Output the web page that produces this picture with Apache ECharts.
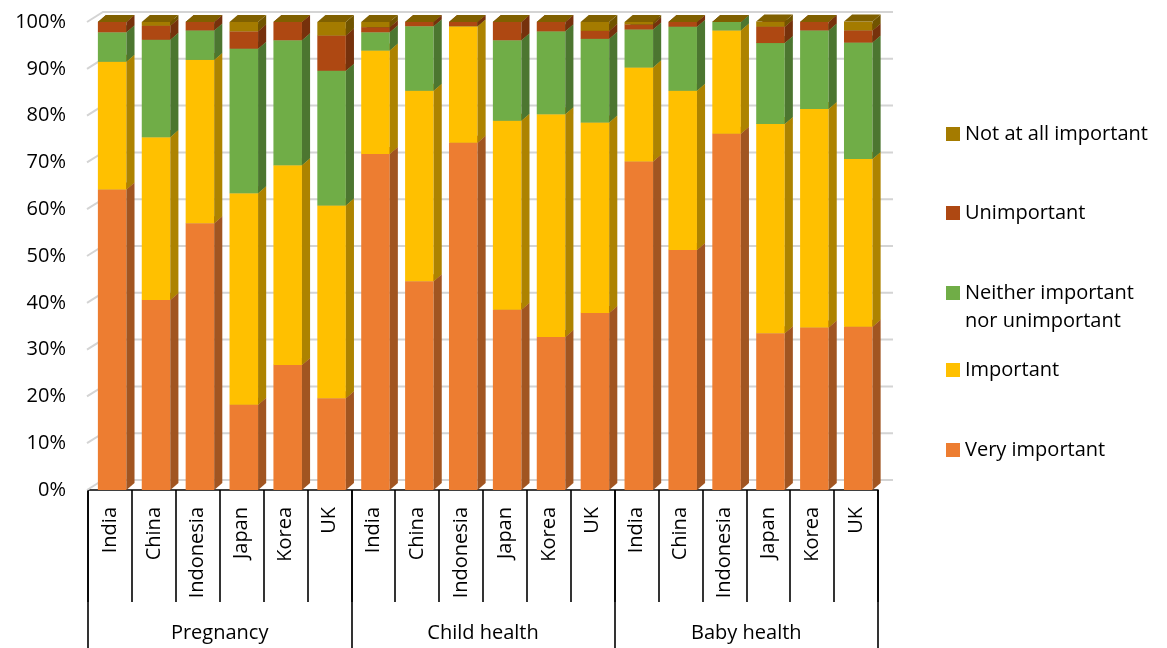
<!DOCTYPE html>
<html>
<head>
<meta charset="utf-8">
<script src="https://cdn.jsdelivr.net/npm/echarts@6/dist/echarts.min.js"></script>
<style>
  html, body { margin: 0; padding: 0; background: #ffffff; }
  #chart { width: 1167px; height: 648px; }
</style>
</head>
<body>
<div id="chart"></div>
<script>
// Countries (one bar each) inside each topic group
const CATEGORIES = [
  'India', 'China', 'Indonesia', 'Japan', 'Korea', 'UK',
  'India', 'China', 'Indonesia', 'Japan', 'Korea', 'UK',
  'India', 'China', 'Indonesia', 'Japan', 'Korea', 'UK'
];
const GROUPS = ['Pregnancy', 'Child health', 'Baby health'];
const Y_TICKS = [0, 10, 20, 30, 40, 50, 60, 70, 80, 90, 100];

// Share of answers (%) per bar, bottom segment first
const VERY_IMPORTANT = [
  64.2, 40.6, 57.0, 18.2, 26.7, 19.6,
  71.8, 44.6, 74.2, 38.5, 32.7, 37.8,
  70.2, 51.3, 76.1, 33.5, 34.7, 34.9
];
const IMPORTANT = [
  27.3, 34.8, 34.9, 45.2, 42.7, 41.2,
  22.1, 40.7, 24.9, 40.4, 47.6, 40.7,
  20.1, 34.0, 22.1, 44.7, 46.7, 35.8
];
const NEITHER = [
  6.3, 20.8, 6.3, 30.9, 26.7, 28.8,
  3.9, 13.8, 0.0, 17.2, 17.7, 17.9,
  8.1, 13.7, 1.8, 17.3, 16.8, 24.9
];
const UNIMPORTANT = [
  2.2, 3.0, 1.8, 3.7, 3.9, 7.5,
  1.1, 0.9, 0.9, 3.9, 2.0, 1.7,
  1.1, 1.0, 0.0, 3.5, 1.8, 2.6
];
const NOT_AT_ALL = [
  0.0, 0.8, 0.0, 2.0, 0.0, 2.9,
  1.1, 0.0, 0.0, 0.0, 0.0, 1.9,
  0.5, 0.0, 0.0, 1.1, 0.0, 1.9
];

const SERIES_NAMES = [
  'Very important', 'Important', 'Neither important nor unimportant',
  'Unimportant', 'Not at all important'
];
const SERIES_VALUES = [VERY_IMPORTANT, IMPORTANT, NEITHER, UNIMPORTANT, NOT_AT_ALL];
const SERIES_COLORS = ['#ED7D31', '#FFC000', '#70AD47', '#AE4812', '#A47B00'];

const FONT = '"Open Sans"';
const TEXT_SIZE = 20;

function shade(hex, k) {
  const n = parseInt(hex.slice(1), 16);
  const r = Math.round(((n >> 16) & 255) * k);
  const g = Math.round(((n >> 8) & 255) * k);
  const b = Math.round((n & 255) * k);
  return 'rgb(' + r + ',' + g + ',' + b + ')';
}

// Box-shaped bar segment: front face, right side face and top face
function makeBarRenderer(color) {
  const sideColor = shade(color, 0.68);
  const topColor = shade(color, 0.78);
  return function (params, api) {
    const idx = api.value(0);
    const lo = api.value(1);
    const hi = api.value(2);
    const band = api.size([1, 0])[0];
    const w = band * 0.65;
    const off = band * 0.05;
    const dx = band * 0.185;
    const dy = -band * 0.16;
    const pBottom = api.coord([idx, lo]);
    const pTop = api.coord([idx, hi]);
    const x0 = pBottom[0] - w / 2 + off;
    const x1 = x0 + w;
    const yb = pBottom[1];
    const yt = pTop[1];
    return {
      type: 'group',
      children: [
        { type: 'polygon', shape: { points: [[x0, yb], [x1, yb], [x1, yt], [x0, yt]] },
          style: { fill: color } },
        { type: 'polygon', shape: { points: [[x1, yb], [x1 + dx, yb + dy], [x1 + dx, yt + dy], [x1, yt]] },
          style: { fill: sideColor } },
        { type: 'polygon', shape: { points: [[x0, yt], [x1, yt], [x1 + dx, yt + dy], [x0 + dx, yt + dy]] },
          style: { fill: topColor } }
      ]
    };
  };
}

// Back wall gridlines with the short receding stroke on the left wall
function renderWall(params, api) {
  const v = api.value(1);
  const y = api.coord([0, v])[1];
  const cs = params.coordSys;
  const dx = 15, dy = -10;
  return {
    type: 'polyline',
    shape: { points: [[cs.x - 1, y], [cs.x + dx, y + dy], [cs.x + cs.width + dx, y + dy]] },
    style: { stroke: '#d4d4d4', lineWidth: 2, fill: null }
  };
}

// Stack the segments of every bar
const baseline = CATEGORIES.map(() => 0);
const barSeries = SERIES_NAMES.map((name, s) => {
  const data = SERIES_VALUES[s].map((v, i) => {
    const lo = baseline[i];
    const hi = lo + v;
    baseline[i] = hi;
    return [i, lo, hi];
  });
  return {
    type: 'custom',
    name: name,
    silent: true,
    z: 3,
    itemStyle: { color: SERIES_COLORS[s] },
    encode: { x: 0, y: [1, 2] },
    renderItem: makeBarRenderer(SERIES_COLORS[s]),
    data: data
  };
});

const wallSeries = {
  type: 'custom',
  silent: true,
  z: 1,
  encode: { x: 0, y: 1 },
  renderItem: renderWall,
  data: Y_TICKS.map(v => [0, v])
};

// Legend entries, top to bottom, with their vertical centres
const LEGEND_ROWS = [
  { name: 'Not at all important', center: 134 },
  { name: 'Unimportant', center: 213 },
  { name: 'Neither important nor unimportant', center: 293, text: ' \nNeither important\nnor unimportant' },
  { name: 'Important', center: 370 },
  { name: 'Very important', center: 450 }
];
const LINE_H = 28;
const legends = LEGEND_ROWS.map(row => {
  const lines = row.text ? row.text.split('\n').length : 1;
  return {
    data: [row.name],
    orient: 'vertical',
    left: 946,
    top: row.center - (lines * LINE_H) / 2,
    padding: 0,
    icon: 'rect',
    itemWidth: 14,
    itemHeight: 14,
    selectedMode: false,
    formatter: row.text ? () => row.text : undefined,
    textStyle: { fontFamily: FONT, fontSize: TEXT_SIZE, color: '#000', lineHeight: LINE_H }
  };
});

const chart = echarts.init(document.getElementById('chart'), null, { renderer: 'canvas' });
chart.setOption({
  animation: false,
  backgroundColor: '#ffffff',
  legend: legends,
  grid: { left: 88, right: 289, top: 22, bottom: 158, containLabel: false },
  xAxis: [
    {
      type: 'category',
      data: CATEGORIES,
      position: 'bottom',
      boundaryGap: true,
      axisLine: { show: true, lineStyle: { color: '#000', width: 1.6 } },
      axisTick: { show: true, interval: 0, length: 112, lineStyle: { color: '#000', width: 1.6 } },
      axisLabel: { interval: 0, rotate: 90, margin: 17, fontFamily: FONT, fontSize: TEXT_SIZE, color: '#000' },
      splitLine: { show: false }
    },
    {
      type: 'category',
      data: GROUPS,
      position: 'bottom',
      boundaryGap: true,
      axisLine: { show: false },
      axisTick: { show: true, interval: 0, length: 158, lineStyle: { color: '#000', width: 1.6 } },
      axisLabel: { interval: 0, margin: 133, fontFamily: FONT, fontSize: TEXT_SIZE, color: '#000' },
      splitLine: { show: false }
    }
  ],
  yAxis: {
    type: 'value',
    min: 0,
    max: 100,
    interval: 10,
    axisLine: { show: false },
    axisTick: { show: false },
    splitLine: { show: false },
    axisLabel: { formatter: '{value}%', margin: 22, fontFamily: FONT, fontSize: TEXT_SIZE, color: '#000' }
  },
  series: [wallSeries].concat(barSeries)
});
</script>
</body>
</html>
